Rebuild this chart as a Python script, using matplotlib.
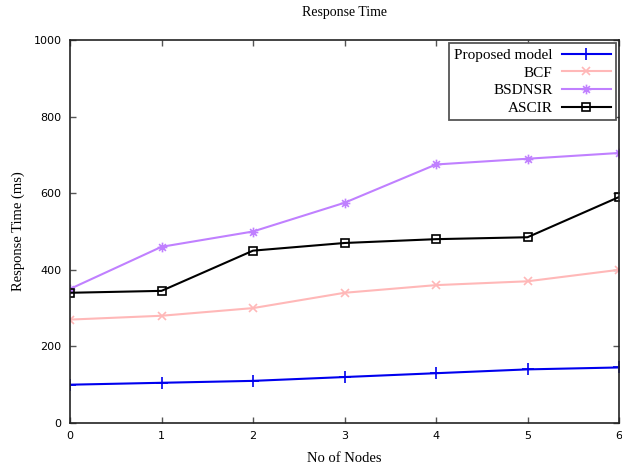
import matplotlib
matplotlib.use("Agg")
import matplotlib.pyplot as plt
from matplotlib.path import Path

# data
nodes = [0, 1, 2, 3, 4, 5, 6]
proposed = [100, 105, 110, 120, 130, 140, 145]
bcf = [270, 280, 300, 340, 360, 370, 400]
bsdnsr = [350, 460, 500, 575, 675, 690, 705]
ascir = [340, 345, 450, 470, 480, 485, 590]

# gnuplot style asterisk (+ and x together)
star = Path([(-1, 0), (1, 0), (0, -1), (0, 1), (-0.7, -0.7), (0.7, 0.7), (-0.7, 0.7), (0.7, -0.7)],
            [Path.MOVETO, Path.LINETO] * 4)

serif = "Liberation Serif"

fig = plt.figure(figsize=(6.22, 4.7), dpi=100)
ax = fig.add_axes([70 / 622, 47 / 470, 549 / 622, 383 / 470])

ax.plot(nodes, proposed, color="#0000ee", lw=1.5, marker="+", ms=8, mew=1.2, label="Proposed model")
ax.plot(nodes, bcf, color="#ffb8b8", lw=1.5, marker="x", ms=6, mew=1.2, label="BCF")
ax.plot(nodes, bsdnsr, color="#c080ff", lw=1.5, marker=star, ms=7, mew=1.2, label="BSDNSR")
ax.plot(nodes, ascir, color="black", lw=1.5, marker="s", ms=5.5, mfc="none", mew=1.2, label="ASCIR")

ax.set_xlim(0, 6)
ax.set_ylim(0, 1000)
ax.set_xticks(nodes)
ax.set_yticks([0, 200, 400, 600, 800, 1000])
ax.tick_params(direction="in", top=True, right=True, labelsize=8, length=4,
               width=1.0, color="#555555", pad=6)
for s in ax.spines.values():
    s.set_linewidth(1.2)
    s.set_color("#222222")

ax.set_title("Response Time", fontfamily=serif, fontsize=10, pad=17)
ax.set_xlabel("No of Nodes", fontfamily=serif, fontsize=10.5, labelpad=8)
ax.set_ylabel("Response Time (ms)", fontfamily=serif, fontsize=10.5, labelpad=6)

leg = ax.legend(loc="upper right", markerfirst=False, fancybox=False, framealpha=1,
                edgecolor="#555555", prop={"family": serif, "size": 11},
                borderaxespad=0.2, handlelength=3.2, labelspacing=0.26, borderpad=0.35,
                handletextpad=0.6)
for t in leg.get_texts():
    t.set_ha("right")
leg.get_frame().set_linewidth(1.3)

plt.savefig("out.png")
